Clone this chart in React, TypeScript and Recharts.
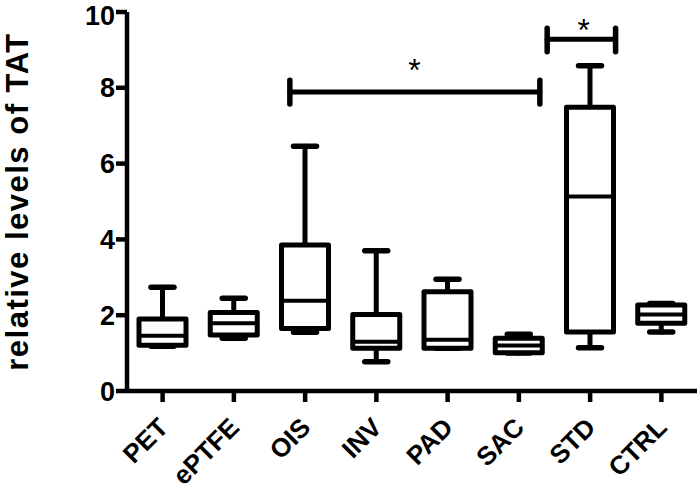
import {
  ComposedChart,
  Bar,
  XAxis,
  YAxis,
  ReferenceLine,
  ReferenceDot,
} from 'recharts'

const categories = ['PET', 'ePTFE', 'OIS', 'INV', 'PAD', 'SAC', 'STD', 'CTRL']
const minValues = [1.18, 1.39, 1.55, 0.77, 1.13, 1.0, 1.14, 1.56]
const q1Values = [1.21, 1.48, 1.65, 1.13, 1.13, 1.01, 1.56, 1.79]
const medianValues = [1.46, 1.79, 2.38, 1.3, 1.35, 1.2, 5.13, 2.02]
const q3Values = [1.9, 2.07, 3.85, 2.02, 2.62, 1.39, 7.49, 2.27]
const maxValues = [2.74, 2.45, 6.46, 3.7, 2.95, 1.5, 8.58, 2.31]
const yTicks = [0, 2, 4, 6, 8, 10]

// significance brackets: [from, to, y, capLow, capHigh], star [x, y]
const brackets = [
  [2.0, 5.07, 7.89, 7.57, 8.2],
  [5.16, 6.0, 9.28, 8.95, 9.57],
]
const stars = [
  [3.53, 8.6],
  [5.61, 9.66],
]

const data = categories.map((name, i) => ({
  name,
  box: [q1Values[i], q3Values[i]],
  min: minValues[i],
  q1: q1Values[i],
  median: medianValues[i],
  q3: q3Values[i],
  max: maxValues[i],
}))

const FONT = '"Liberation Sans", Arial, sans-serif'

function BoxShape(props: any) {
  const { x, y, width, height, payload } = props
  if (!payload) return null
  const top = Math.min(y, y + height)
  const h = Math.abs(height)
  const span = payload.q3 - payload.q1
  const ppu = span > 0 ? h / span : 0
  const py = (v: number) => top + (payload.q3 - v) * ppu
  const cx = x + width / 2
  const cap = 23
  return (
    <g stroke="#000" strokeWidth={5} strokeLinecap="round" strokeLinejoin="round" fill="none">
      <line x1={cx} x2={cx} y1={py(payload.max)} y2={top} />
      <line x1={cx} x2={cx} y1={top + h} y2={py(payload.min)} />
      <line x1={cx - cap / 2} x2={cx + cap / 2} y1={py(payload.max)} y2={py(payload.max)} strokeWidth={5.5} />
      <line x1={cx - cap / 2} x2={cx + cap / 2} y1={py(payload.min)} y2={py(payload.min)} strokeWidth={5.5} />
      <rect x={x} y={top} width={width} height={h} fill="#fff" />
      <line x1={x} x2={x + width} y1={py(payload.median)} y2={py(payload.median)} strokeWidth={4} />
    </g>
  )
}

function XTick({ x, y, payload }: any) {
  return (
    <g transform={`translate(${x + 7},${y + 25})`}>
      <text
        x={0}
        y={0}
        textAnchor="end"
        transform="rotate(-45)"
        fontFamily={FONT}
        fontWeight="bold"
        fontSize={26}
        fill="#000"
      >
        {payload.value}
      </text>
    </g>
  )
}

function YLabel({ viewBox }: any) {
  const x = viewBox.x + 28
  const y = viewBox.y + viewBox.height / 2
  return (
    <text
      x={x}
      y={y}
      textAnchor="middle"
      transform={`rotate(-90, ${x}, ${y})`}
      fontFamily={FONT}
      fontWeight="bold"
      fontSize={31}
      letterSpacing={1.5}
      fill="#000"
    >
      relative levels of TAT
    </text>
  )
}

function Star(props: any) {
  return (
    <text
      x={props.cx}
      y={props.cy + 16}
      textAnchor="middle"
      fontFamily={FONT}
      fontSize={32}
      fill="#000"
    >
      *
    </text>
  )
}

export default function App() {
  const line = { stroke: '#000', strokeWidth: 4.5 }
  return (
    <div style={{ position: 'absolute', left: 0, top: 0, background: '#fff' }}>
      <ComposedChart
        width={700}
        height={491}
        data={data}
        margin={{ top: 12, right: 3, left: 0, bottom: 0 }}
      >
        <XAxis
          dataKey="name"
          height={100}
          axisLine={line}
          tickLine={line}
          tickSize={11}
          tick={<XTick />}
          interval={0}
        />
        <XAxis xAxisId="num" type="number" domain={[-0.5, 7.5]} hide />
        <YAxis
          width={127}
          domain={[0, 10]}
          ticks={yTicks}
          axisLine={line}
          tickLine={line}
          tickSize={11}
          tickMargin={1}
          tick={{ fontFamily: FONT, fontWeight: 'bold', fontSize: 27, fill: '#000' }}
          label={<YLabel />}
        />
        <Bar
          dataKey="box"
          barSize={47}
          shape={<BoxShape />}
          isAnimationActive={false}
        />
        {brackets.map(([a, b, yv, lo, hi], i) => (
          <g key={i}>
            <ReferenceLine
              xAxisId="num"
              segment={[{ x: a, y: yv }, { x: b, y: yv }]}
              stroke="#000"
              strokeWidth={5}
              strokeLinecap="round"
            />
            <ReferenceLine
              xAxisId="num"
              segment={[{ x: a, y: lo }, { x: a, y: hi }]}
              stroke="#000"
              strokeWidth={5.5}
              strokeLinecap="round"
            />
            <ReferenceLine
              xAxisId="num"
              segment={[{ x: b, y: lo }, { x: b, y: hi }]}
              stroke="#000"
              strokeWidth={5.5}
              strokeLinecap="round"
            />
          </g>
        ))}
        {stars.map(([sx, sy], i) => (
          <ReferenceDot key={`s${i}`} xAxisId="num" x={sx} y={sy} r={0} shape={<Star />} />
        ))}
      </ComposedChart>
    </div>
  )
}
